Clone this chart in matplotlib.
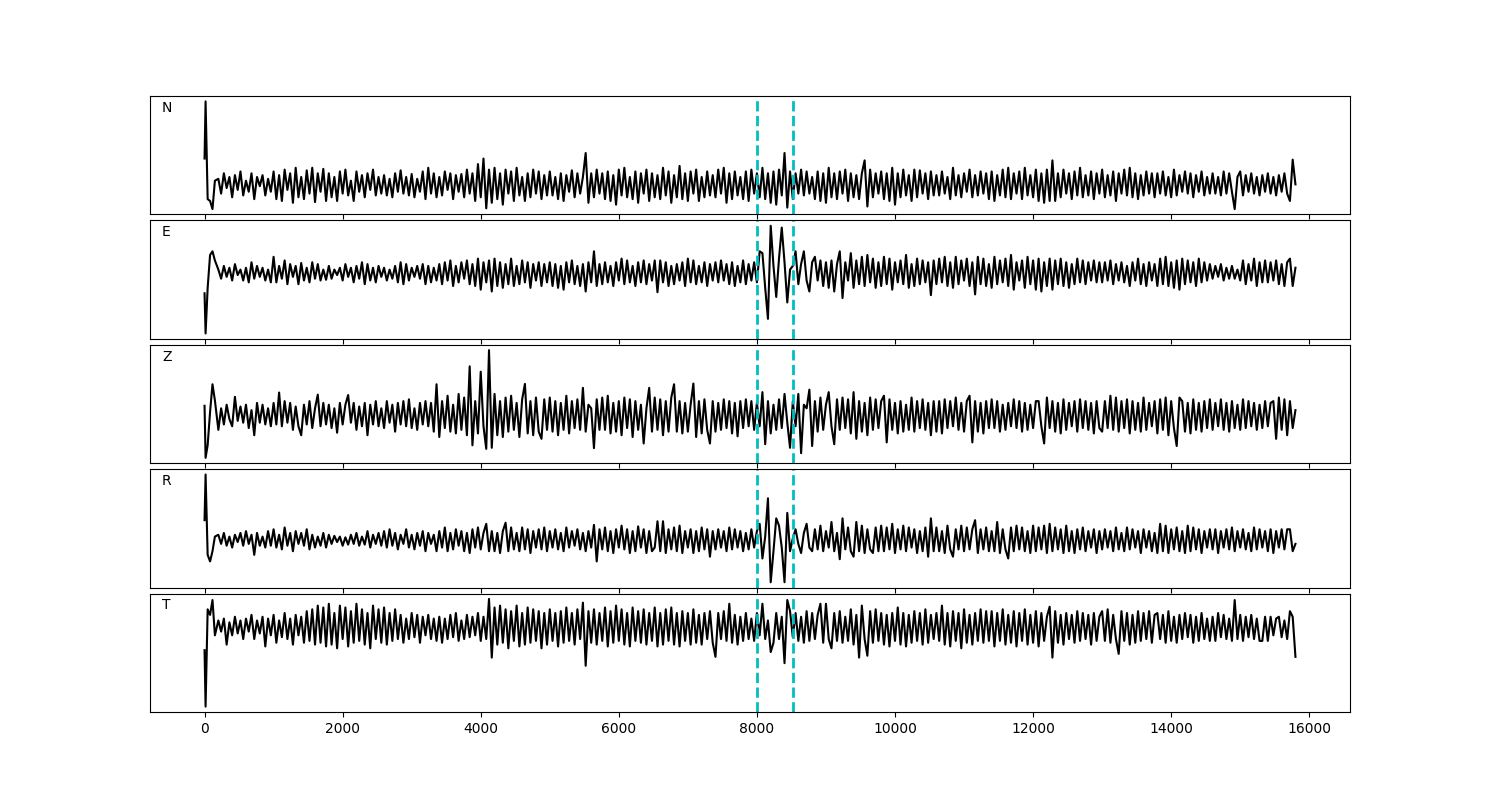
import numpy as np
import matplotlib
matplotlib.use('Agg')
import matplotlib.pyplot as plt

# sample times: short onset part, then every 40 samples up to the end
t_onset = [0, 15, 45, 80, 115, 150]
t_body = list(np.arange(200, 15801, 40))
t = t_onset + t_body

# picks (dashed cyan lines)
picks = [8000, 8520]

labels = ['N', 'E', 'Z', 'R', 'T']

trace_n = [70, 225, -40, -45, -67, 10,
           15, -25, 30, -10, 20, -35, 25, -15, 35, -30, 10, -20, 30, -40, 20, -5, 25, -30, 15, -20,
           35, -40, 25, -45, 40, -15, 30, -50, 45, -35, 20, -40, 38, -25, 45, -48, 30, -20, 42, -45,
           30, -35, 20, -45, 35, -25, 40, -30, 10, -45, 35, -20, 25, -35, 30, -15, 40, -30, 20, -25,
           25, -30, 15, -35, 30, -20, 38, -25, 20, -30, 28, -35, 15, -20, 35, -40, 45, -25, 30, -35,
           20, -30, 35, -15, 30, -40, 25, -20, 28, -35, 40, -25, 30, -45, 55, -35, 70, -65, 40, -50,
           45, -40, 30, -55, 40, -25, 35, -45, 45, -30, 20, -45, 30, -35, 40, -25, 35, -40, 25, -30,
           35, -30, 20, -40, 30, -45, 25, -20, 38, -35, 30, -25, 20, 85, -50, 30, -35, 40, -25, 30,
           -40, 35, -45, 25, -55, 40, -30, 45, -35, 20, -40, 35, -50, 30, -25, 40, -45, 30, -35, 25,
           -40, 45, -30, 35, -50, 25, -35, 50, -40, 30, -45, 35, -25, 40, -45, 20, -35, 35, -30, 25,
           -35, 40, -25, 45, -50, 30, -40, 35, -30, 20, -40, 35, -45, 40, -25, 30, -35, 45, -40, 30,
           -50, 35, -55, 40, -30, 85, -63, 35, -40, 30, -25, 40, -30, 35, -25, 20, -40, 35, -45, 30,
           -50, 45, -35, 30, -40, 35, -25, 40, -45, 30, -35, 25, -40, 30, 65, -60, 40, -35, 30, -25,
           35, -40, 30, -45, 45, -55, 30, -35, 40, -30, 25, -45, 40, -35, 38, -25, 30, -40, 35, -30,
           25, -30, 35, -25, 20, -40, 45, -30, 25, -35, 30, -20, 40, -35, 25, -30, 35, -25, 30, -40,
           35, -45, 25, -30, 40, -35, 45, -40, 30, -25, 35, -40, 45, -30, 25, -35, 40, -45, 30, -50,
           40, -45, 65, -45, 30, -35, 40, -25, 30, -40, 35, -30, 45, -35, 25, -30, 35, -40, 30, -25,
           40, -35, 25, -30, 35, -45, 30, -25, 40, -30, 45, -35, 30, -40, 25, -30, 35, -25, 30, -35,
           30, -25, 35, -30, 20, -35, 40, -30, 25, -20, 35, -25, 30, -35, 25, -20, 35, -30, 20, -25,
           30, -25, 20, -30, 35, -25, 30, -20, -67, 20, 35, -30, 25, -20, 30, -25, 20, -30, 25, -20,
           30, -25, 20, -30, 25, -20, 30, -25, -45, 67, 0]

trace_e = [-55, -165, -40, 50, 60, 35,
           10, -15, 20, -10, 15, -20, 25, -5, 10, -20, 15, -25, 30, -15, 20, -10, 15, -20, 10, -25,
           45, -25, 20, -15, 35, -30, 25, -10, 20, -30, 28, -20, 15, -25, 30, -15, 25, -20, 10, -18,
           20, -15, 10, -5, 15, -20, 25, -10, 15, -25, 20, -15, 30, -30, 25, -20, 15, -25, 20, -10,
           15, -20, 10, -15, 20, -25, 30, -30, 25, -20, 15, -10, 20, -15, 25, -30, 20, -25, 15, -20,
           25, -30, 30, -20, 35, -35, 20, -25, 30, -15, 35, -30, 25, -35, 40, -45, 30, -25, 35, -50,
           40, -35, 30, -40, 25, -30, 40, -35, 20, -30, 35, -25, 30, -40, 25, -20, 30, -35, 25, -25,
           30, -35, 25, -40, 20, -45, 30, -25, 35, -30, 20, -35, 25, -50, 30, -25, 60, -35, 25, -30,
           30, -25, 20, -35, 30, -20, 40, -30, 35, -25, 20, -35, 30, -25, 35, -30, 25, -20, 35, -52,
           35, -25, 30, -35, 20, -30, 25, -20, 30, -35, 40, -25, 35, -30, 20, -25, 30, -35, 25, -20,
           30, -25, 35, -20, 25, -30, 30, -35, 20, -25, 35, -30, 25, -20, 30, -25, 60, 55, -40, -125,
           130, 20, -65, 40, 125, 30, -80, 10, 20, 60, -30, 25, 60, -20, -50, 30, 45, -20, 35, -35,
           30, -40, 35, -50, 25, 60, -68, 30, -20, 55, -40, 35, -30, 45, -35, 50, -25, 40, -40, 30,
           -35, 45, -30, 40, -45, 30, -25, 35, -30, 50, -40, 25, -35, 40, -30, 35, -25, 30, -60, 35,
           -30, 40, -25, 45, -35, 30, -40, 45, -30, 35, -20, 40, -35, 30, -58, 45, -30, 40, -35, 25,
           -40, 45, -30, 35, -25, 40, -35, 50, -45, 30, -20, 35, -40, 45, -30, 35, -45, 40, -50, 30,
           -35, 40, -45, 35, -30, 40, -35, 30, -40, 25, -30, 40, -25, 35, -30, 30, -20, 35, -25, 30,
           -25, 30, -20, 35, -30, 25, -20, 30, -25, 20, -35, 30, -20, 40, -30, 25, -35, 30, -20, 25,
           -35, 40, -30, 45, -35, 30, -40, 35, -45, 40, -30, 35, -25, 30, -35, 40, -25, 30, -20, 25,
           -15, 20, -10, 25, -20, 15, -15, 20, -15, 10, -20, 35, -30, 25, -20, 40, -35, 30, -25, 35,
           -25, 30, -20, 35, -30, 25, -35, 30, 40, -35, 15]

trace_z = [27, -118, -83, 10, 87, 42,
           -40, 20, -25, 30, -10, -30, 52, -15, 25, -20, 30, -35, 15, -55, 35, -20, 30, -25, 20, -30,
           35, -25, 64, -30, 40, -20, 35, -40, 25, -30, -55, 30, -25, 40, -35, 20, 58, -30, 35, -25,
           30, -35, 20, -48, 35, -25, 30, 57, -20, 35, -40, 25, -30, 35, -55, 30, -25, 40, -30, 20,
           -35, 40, -20, 30, -45, 35, -25, 40, -30, 45, -35, 20, -40, 35, -25, 40, -30, 35, -45, 87,
           -60, 40, -35, 55, -45, 30, -50, 60, -40, 50, -55, 137, -83, 40, -50, 122, -30, -93, 182, -90,
           60, -55, 40, -60, 50, -45, 55, -40, 35, -60, 45, 88, -50, 40, -55, 50, -45, -65, 45, -40,
           50, -45, 40, -55, 35, -40, 55, -50, 40, -35, 45, -40, 77, -45, 30, 20, -91, 45, -40, 50,
           -40, 55, -50, 35, -45, 40, -55, 50, -35, 45, -60, 40, -40, 30, -78, 20, 77, -45, 50, -40,
           45, -55, 40, -45, 50, 87, -45, 40, -50, 35, -45, 30, 89, -60, 40, -50, 45, -40, -78, 40,
           -45, 35, -40, 45, -35, 40, -50, 35, -58, 40, -35, 45, -30, 40, -40, 35, -30, 65, -80, 40,
           -50, 30, -40, 45, -35, 60, -20, -90, 40, -30, 60, -105, 30, 20, 72, -85, 40, -45, 50, -40,
           30, 65, -30, -80, 45, -40, 50, -35, 45, -50, 65, -65, 40, -45, 35, -55, 50, -40, 45, -35,
           40, 55, -75, 45, -40, 35, -50, 40, -45, 30, -40, 50, -45, 40, -35, 45, -40, 35, -55, 40,
           -45, 40, -50, 45, -35, 40, -30, 50, -40, 35, -45, 40, 55, -75, 40, -45, 35, -50, 40, -35,
           45, -35, 40, -45, 30, -40, 35, -30, 45, -35, 40, -45, 35, -40, 30, -35, 40, 40, -30, -78,
           50, -35, 40, -45, 35, -50, 45, -40, 35, -30, 40, -45, 45, -35, 40, -40, 35, -50, 40, -35,
           -45, 40, -35, 55, -40, 50, -45, 40, -35, 45, -50, 40, -40, 35, -45, 50, -40, 35, -30, 40,
           -50, 45, -40, 50, -55, 40, -35, -85, 50, 40, -45, 35, -50, 45, -40, 35, -45, 40, -35, 45,
           -40, 35, -30, 45, -40, 35, -45, 40, -35, 30, -40, 45, -35, 40, -30, 35, -40, 30, -35, 40,
           -30, 35, 40, -65, 50, -40, 45, -55, 40, -35, 15]

trace_r = [55, 180, -40, -58, -30, 10,
           15, -10, 20, -15, 10, -20, 15, -5, 20, -15, 25, -10, 15, -40, 20, -15, 10, -20, 25, -15,
           30, -20, 15, -25, 35, -15, 20, -30, 25, -10, 20, -15, 30, -25, 15, -20, 10, -15, 20, -20,
           15, -10, 12, -5, 10, -15, 8, -12, 15, -10, 20, -15, 10, -12, 25, -20, 15, -10, 20, -15,
           25, -20, 30, -15, 20, -25, 15, -10, 30, -20, 15, -25, 20, -15, 25, -30, 20, -10, 15, -30,
           25, -20, 35, -30, 20, -25, 30, -15, 25, -30, 20, -35, 30, -20, 35, -25, 20, 45, -30, 25,
           -30, 20, -35, 25, 48, -30, 35, -25, 20, -30, 35, -25, 30, -35, 25, -20, 30, -25, 35, -30,
           25, -20, 30, -25, 20, -30, 35, -20, 25, -15, 30, -25, 20, -30, 25, -20, 42, -58, 30, -25,
           35, -30, 25, -35, 30, -20, 40, -25, 30, -35, 25, -30, 38, -20, 30, -35, 25, -30, -20, 52,
           -30, 52, -35, 30, -25, 35, -30, 40, -35, 25, -20, 30, -35, 25, -30, 35, -25, 30, -45, 25,
           -25, 30, -20, 25, -30, 35, -25, 30, -20, 25, -30, 20, -25, 30, -20, 25, 45, -50, 10, 115,
           -115, -30, 60, 40, -20, -115, 75, -30, 5, 30, -10, -35, 20, 45, -20, -30, 30, -25, 40, -30,
           25, -20, 50, -30, 20, -52, 60, -25, 35, -30, -45, 50, -30, 40, -35, 30, -25, -35, 35, -30,
           40, -30, 35, -25, 45, -35, 30, -25, 40, -30, 35, -20, 30, -35, 25, -30, 35, -45, 60, -30,
           35, -30, 25, -35, 40, -25, -45, 30, -25, 40, -30, 35, -25, 30, 55, -35, 30, -25, 35, -30,
           25, -30, 50, -35, 30, -25, -50, 35, -30, 40, -25, 35, -30, 25, -35, 40, -30, 35, -25, 40,
           -35, 45, -30, 35, -25, 30, -35, 40, -30, 25, -35, 30, -25, 35, -30, 25, -20, 30, -35, 25,
           -25, 30, -20, 25, -30, 35, -25, 20, -30, 35, -25, 30, -20, 25, -35, 30, -20, 25, -30, 20,
           -35, 45, -30, 40, -35, 30, -25, 35, -30, 25, -35, 40, -30, 35, -25, 30, -35, 25, -20, 30,
           -25, 30, -35, 25, -20, 30, -25, 35, -30, 25, -20, 30, -25, 20, -30, 35, -25, 30, -20, 25,
           -30, 30, -35, 25, -20, 30, -25, 30, 30, -30, -10]

trace_t = [-60, -212, 50, 35, 75, -20,
           20, -10, 25, -45, 15, -20, 30, -15, 20, -30, 25, -10, 35, -30, 20, -15, 30, -50, 25, -20,
           35, -40, 20, -25, 40, -30, 25, -45, 35, -20, 30, -40, 45, -35, 50, -45, 60, -40, 55, -50,
           65, -45, 40, -55, 60, -30, 55, -50, 45, -40, 65, -35, 50, -45, 40, -55, 60, -30, 50, -40,
           55, -45, 40, -35, 50, -30, 35, -40, 25, -30, 40, -25, 35, -40, 30, -20, 35, -30, 25, -35,
           30, -40, 25, -30, 35, -25, 40, -35, 20, -30, 35, -25, 30, -20, 40, -35, 30, -30, 78, -80,
           55, -45, 60, -40, 50, -55, 45, -35, 60, -50, 40, -45, 55, -40, 50, -35, 45, -55, 40, -45,
           50, -35, 40, -50, 45, -40, 55, -35, 40, -45, 50, -30, 68, -102, 45, -40, 50, -45, 40, -35,
           55, -50, 45, -40, 60, -35, 50, -45, 40, -50, 55, -35, 45, -40, 50, -45, 40, -35, 55, -50,
           40, -45, 50, -35, 55, -45, 40, -50, 45, -35, 40, -45, 50, -40, 35, -45, 40, -30, 45, -40,
           -78, 40, -30, 45, -35, 65, -40, 35, -45, 30, -35, 40, -30, 25, -35, 40, -20, 65, -30, 20,
           -65, -40, 40, -30, 30, -95, 75, 45, -25, 40, -35, 30, -40, 45, -35, 40, -30, 35, 65, -40,
           65, -30, -55, 40, -35, 45, -40, 30, -35, 50, -45, 35, -80, 60, -30, -75, 45, -40, 50, -35,
           40, -45, 35, -50, 40, -35, 55, -45, 40, -50, 35, -40, 45, -35, 40, -45, 50, -40, 35, -30,
           40, -35, 60, -45, 40, -50, 45, -35, 40, -55, 50, -40, 35, -45, 40, -35, 50, -40, 45, -35,
           45, -50, 40, -35, 50, -45, 35, -40, 45, -50, 40, -35, 50, -45, 35, -40, 45, -50, 40, -35,
           30, 57, -80, 45, -40, 35, -45, 40, -30, 35, -40, 45, -35, 40, -30, 35, -45, 40, -35, 30,
           45, -35, 50, -40, 35, -30, -70, 45, -35, 40, -45, 35, -40, 45, -35, 40, -30, 45, -40, 35,
           40, -30, 35, -40, 45, -35, 30, -40, 35, -30, 40, -25, 35, -40, 30, -35, 40, -30, 25, -35,
           30, -35, 40, -25, 35, -30, 25, -35, 75, -30, 35, -35, 30, -25, 35, -30, 25, -35, -35, 30,
           -35, 30, -20, 25, 30, -25, 20, -30, 45, 30, -78]

traces = [trace_n, trace_e, trace_z, trace_r, trace_t]

fig, axes = plt.subplots(5, 1, figsize=(15, 8), sharex=True)
plt.subplots_adjust(left=0.1, right=0.9, hspace=0.05)

for ax, y, lab in zip(axes, traces, labels):
    ax.plot(t, y, 'k-', lw=1.5)
    for p in picks:
        ax.axvline(p, color='c', ls='--', lw=2)
    ax.set_yticks([])
    ax.text(0.01, 0.9, lab, transform=ax.transAxes, va='center')

fig.savefig('out.png')
